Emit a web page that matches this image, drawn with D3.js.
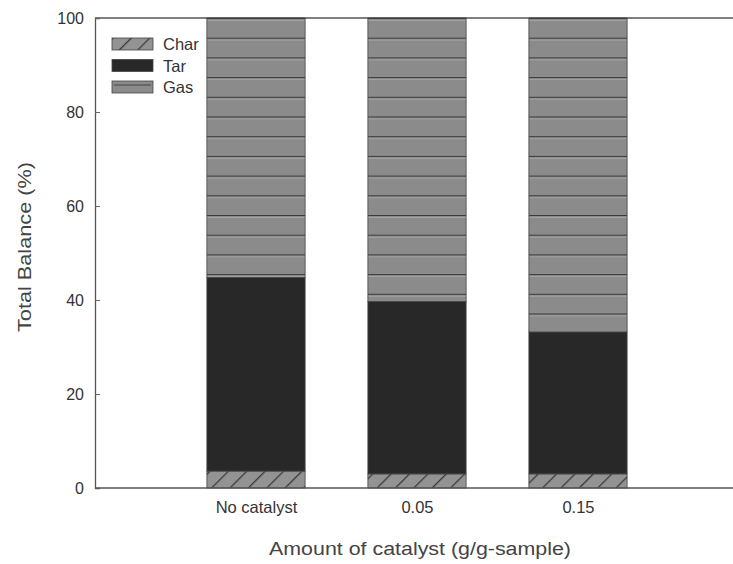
<!DOCTYPE html>
<html>
<head>
<meta charset="utf-8">
<script src="https://cdn.jsdelivr.net/npm/d3@7"></script>
<style>
  body { margin: 0; background: #fff; }
  svg { display: block; font-family: Arial, "Liberation Sans", sans-serif; }
</style>
</head>
<body>
<svg id="chart" width="733" height="564"></svg>
<script>
// Product distribution per catalyst loading (% of total balance)
const categories = ["No catalyst", "0.05", "0.15"];
const charValues = [3.6, 3.0, 3.0];
const tarValues = [41.2, 36.7, 30.2];
const gasValues = [55.2, 60.3, 66.8];
const seriesNames = ["Char", "Tar", "Gas"];
const yTicks = [0, 20, 40, 60, 80, 100];

const svg = d3.select("#chart");
const margin = { left: 95, top: 18, bottom: 488, right: 739 };

// Categories sit at positions 1..3 on a 0..4 axis
const x = d3.scaleLinear().domain([0, 4]).range([margin.left, margin.right]);
const y = d3.scaleLinear().domain([0, 100]).range([margin.bottom, margin.top]);
const barW = 0.61;

const defs = svg.append("defs");
// Gas: grey with horizontal bands
const gp = defs.append("pattern").attr("id", "gasPat")
  .attr("patternUnits", "userSpaceOnUse").attr("width", 10).attr("height", 19.7)
  .attr("y", margin.top);
gp.append("rect").attr("width", 10).attr("height", 19.7).attr("fill", "#8b8b8b");
gp.append("rect").attr("y", 0).attr("width", 10).attr("height", 1.4).attr("fill", "#3a3a3a");
gp.append("rect").attr("y", 1.4).attr("width", 10).attr("height", 1.4).attr("fill", "#a6a6a6");
// Char: grey with diagonal hatching
const cp = defs.append("pattern").attr("id", "charPat")
  .attr("patternUnits", "userSpaceOnUse").attr("width", 13).attr("height", 13)
  .attr("patternTransform", "rotate(45)");
cp.append("rect").attr("width", 13).attr("height", 13).attr("fill", "#939393");
cp.append("rect").attr("x", 0).attr("width", 1.3).attr("height", 13).attr("fill", "#3a3a3a");

const fills = { Char: "url(#charPat)", Tar: "#282828", Gas: "url(#gasPat)" };

const rows = categories.map((c, i) => ({ cat: c, i, Char: charValues[i], Tar: tarValues[i], Gas: gasValues[i] }));
const stacked = d3.stack().keys(seriesNames)(rows);

// Frame top edge
svg.append("line").attr("x1", margin.left).attr("x2", 733)
  .attr("y1", margin.top).attr("y2", margin.top)
  .attr("stroke", "#555").attr("stroke-width", 1.3);

// Bars
stacked.forEach(layer => {
  svg.append("g").selectAll("rect").data(layer).join("rect")
    .attr("x", d => x(d.data.i + 1 - barW / 2))
    .attr("width", d => x(barW) - x(0))
    .attr("y", d => y(d[1]))
    .attr("height", d => y(d[0]) - y(d[1]))
    .attr("fill", fills[layer.key])
    .attr("stroke", "#444").attr("stroke-width", 0.8);
});

// Y axis with inward ticks
const yAxis = svg.append("g").attr("transform", `translate(${margin.left},0)`)
  .call(d3.axisLeft(y).tickValues(yTicks).tickSize(-5).tickPadding(11));
yAxis.select(".domain").attr("stroke", "#555").attr("stroke-width", 1.3);
yAxis.selectAll(".tick line").attr("stroke", "#666");
yAxis.selectAll("text").attr("font-size", 16).attr("fill", "#333");

// X axis: category labels, no ticks
const xAxis = svg.append("g").attr("transform", `translate(0,${margin.bottom})`)
  .call(d3.axisBottom(x).tickValues([1, 2, 3]).tickFormat(d => categories[d - 1]).tickSize(0).tickPadding(13));
xAxis.select(".domain").remove();
svg.append("line").attr("x1", margin.left).attr("x2", 733)
  .attr("y1", margin.bottom).attr("y2", margin.bottom)
  .attr("stroke", "#555").attr("stroke-width", 1.3);
xAxis.selectAll("text").attr("font-size", 16.5).attr("fill", "#333");

// Axis titles
svg.append("text").attr("x", 420).attr("y", 555).attr("text-anchor", "middle")
  .attr("font-size", 18).attr("fill", "#444")
  .attr("textLength", 302).attr("lengthAdjust", "spacingAndGlyphs")
  .text("Amount of catalyst (g/g-sample)");
svg.append("text").attr("transform", "translate(31,247) rotate(-90)").attr("text-anchor", "middle")
  .attr("font-size", 18).attr("fill", "#444")
  .attr("textLength", 170).attr("lengthAdjust", "spacingAndGlyphs")
  .text("Total Balance (%)");

// Legend
const legend = svg.append("g").attr("transform", "translate(112,38)");
seriesNames.forEach((name, k) => {
  const g = legend.append("g").attr("transform", `translate(0,${k * 21.5})`);
  g.append("rect").attr("width", 41).attr("height", 12)
    .attr("fill", name === "Gas" ? "#8b8b8b" : fills[name])
    .attr("stroke", "#444").attr("stroke-width", 0.8);
  if (name === "Gas") {
    g.append("line").attr("x1", 2).attr("x2", 39).attr("y1", 4).attr("y2", 4).attr("stroke", "#444").attr("stroke-width", 1);
  }
  g.append("text").attr("x", 51).attr("y", 12).attr("font-size", 16.5).attr("fill", "#333").text(name);
});
</script>
</body>
</html>
